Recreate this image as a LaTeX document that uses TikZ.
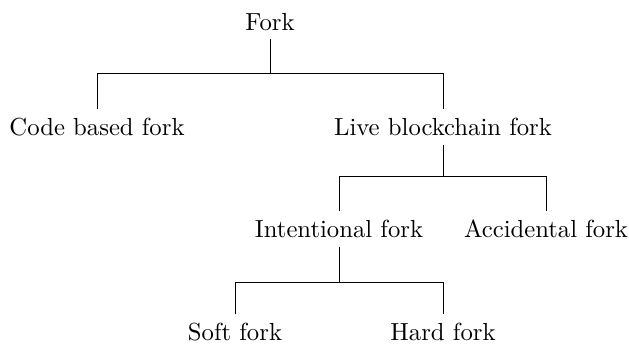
\documentclass[tikz,border=0pt]{standalone}
\usetikzlibrary{positioning}

\begin{document}
\begin{tikzpicture}[x=0.405pt,y=-0.405pt]
   \useasboundingbox (0,0) rectangle (629,346);
   \node (fork)   at (270,22)  {Fork};
   \node (code)   at (97,127)  {Code based fork};
   \node (live)   at (443,127) {Live blockchain fork};
   \node (intent) at (339,229) {Intentional fork};
   \node (accid)  at (546,229) {Accidental fork};
   \node (soft)   at (235,332) {Soft fork};
   \node (hard)   at (443,332) {Hard fork};
   % bars
   \coordinate (b_1) at (270,73);
   \coordinate (b_2) at (443,176);
   \coordinate (b_3) at (339,282);
   \draw (fork.south) -- (b_1);
   \draw (code.north) |- (b_1) -| (live.north);
   \draw (live.south) -- (b_2);
   \draw (intent.north) |- (b_2) -| (accid.north);
   \draw (intent.south) -- (b_3);
   \draw (soft.north) |- (b_3) -| (hard.north);
\end{tikzpicture}
\end{document}
